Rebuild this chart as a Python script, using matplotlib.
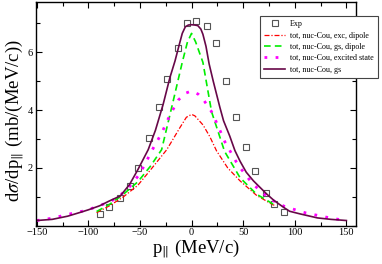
import matplotlib
matplotlib.use("Agg")
import matplotlib.pyplot as plt
from matplotlib.ticker import MultipleLocator, FixedLocator

plt.rcParams['font.family'] = ['Liberation Serif', 'DejaVu Serif']
plt.rcParams['mathtext.fontset'] = 'stix'

# Experimental points
exp_x = [-89, -80, -69, -60, -52, -41, -32, -24, -13.5, -4, 4, 15, 23.5, 33, 43.5, 53, 61, 72, 80, 90]
exp_y = [0.41, 0.63, 0.97, 1.37, 1.99, 3.02, 4.11, 5.06, 6.16, 7.00, 7.07, 6.90, 6.33, 5.00, 3.75, 2.73, 1.88, 1.14, 0.76, 0.47]

# tot, nuc-Cou, gs (solid)
gs_x = [-150, -135, -120, -108, -100, -89, -80, -69, -60, -52, -42, -35, -27.5, -21, -16, -12, -9, -6, -3, 0,
        3, 6, 9, 11, 14, 17, 21, 27.4, 31, 37, 42, 47, 53, 60, 73, 80, 89, 95, 105, 122, 135, 150]
gs_y = [0.18, 0.22, 0.33, 0.46, 0.55, 0.69, 0.85, 1.03, 1.43, 1.94, 2.63, 3.30, 4.20, 5.12, 5.70, 6.25, 6.65, 6.88, 6.94, 6.95,
        6.94, 6.92, 6.80, 6.62, 6.20, 5.60, 5.00, 4.10, 3.63, 3.10, 2.60, 2.23, 1.85, 1.55, 1.09, 0.87, 0.64, 0.50, 0.41, 0.27, 0.22, 0.18]

# tot, nuc-Cou, gs, dipole (dashed green)
gsd_x = [-92, -79, -66, -52, -40, -29, -18, -9, -4, 0, 4, 11, 19.4, 32, 47, 63, 79, 82]
gsd_y = [0.49, 0.75, 1.09, 1.52, 2.05, 2.63, 4.28, 5.65, 6.35, 6.65, 6.35, 5.65, 3.94, 2.57, 1.66, 1.09, 0.75, 0.72]

# tot, nuc-Cou, exc, dipole (dash-dot red)
exd_x = [-92, -79, -66, -52, -40, -24, -11.3, -5, 0, 3.2, 11.2, 17.7, 24.2, 35, 47, 63, 79, 82]
exd_y = [0.45, 0.70, 1.00, 1.40, 1.92, 2.63, 3.39, 3.75, 3.85, 3.80, 3.48, 3.08, 2.59, 2.00, 1.55, 1.05, 0.72, 0.70]

# tot, nuc-Cou, excited state (dotted magenta)
exc_x = [-150, -135, -120, -106, -98, -85, -76, -68, -60, -50, -37, -29, -21, -13, -6, 0, 6.4, 11.3, 19.4, 25.8,
         32.3, 45, 59.6, 72, 82, 90, 105, 111, 130, 150]
exc_y = [0.18, 0.26, 0.39, 0.50, 0.58, 0.75, 0.89, 1.09, 1.35, 1.80, 2.69, 3.20, 3.82, 4.34, 4.58, 4.66, 4.55, 4.37, 3.94, 3.44,
         2.90, 2.10, 1.43, 1.05, 0.80, 0.67, 0.50, 0.44, 0.30, 0.17]

fig = plt.figure(figsize=(3.82, 2.64), dpi=100)
ax = fig.add_axes([0.0935, 0.145, 0.8375, 0.849])

ax.plot(exp_x, exp_y, linestyle='none', marker='s', markersize=5, markerfacecolor='none',
        markeredgecolor='#555555', markeredgewidth=0.8, label='Exp')
ax.plot(exd_x, exd_y, color='#ff0000', linestyle=(0, (4, 1.5, 1, 1.5)), lw=0.9, label='tot, nuc-Cou, exc, dipole')
ax.plot(gsd_x, gsd_y, color='#00ee00', linestyle=(0, (4, 2.5)), lw=1.2, label='tot, nuc-Cou, gs, dipole')
ax.plot(exc_x, exc_y, color='#ff00ff', linestyle=(0, (1, 3)), lw=2.0, label='tot, nuc-Cou, excited state')
ax.plot(gs_x, gs_y, color='#670748', lw=1.2, label='tot, nuc-Cou, gs')

ax.set_xlim(-151, 159)
ax.set_ylim(0, 7.75)
ax.xaxis.set_major_locator(FixedLocator([-150, -100, -50, 0, 50, 100, 150]))
ax.xaxis.set_minor_locator(MultipleLocator(25))
ax.yaxis.set_major_locator(FixedLocator([2, 4, 6]))
ax.yaxis.set_minor_locator(MultipleLocator(1))
ax.tick_params(which='both', direction='in', top=True, right=True, labelsize=7.5, width=0.8, pad=2)
ax.tick_params(which='major', length=4)
ax.tick_params(which='minor', length=3)
for s in ax.spines.values():
    s.set_linewidth(1.0)

ax.set_xlabel(r'p$_{\|}$ (MeV/c)', fontsize=13.5, labelpad=0)
ax.set_ylabel(r'd$\sigma$/dp$_{\|}$ (mb/(MeV/c))', fontsize=13.5, labelpad=1)
ax.yaxis.label.set_y(0.47)

leg = ax.legend(loc='upper left', bbox_to_anchor=(0.681, 0.939), bbox_transform=fig.transFigure,
                fontsize=5.8, frameon=True, fancybox=False, framealpha=1, edgecolor='#444444',
                borderaxespad=0, handlelength=2.6, handletextpad=0.6, labelspacing=0.42, borderpad=0.5)
leg.get_frame().set_linewidth(0.8)

fig.savefig('out.png', dpi=100)
